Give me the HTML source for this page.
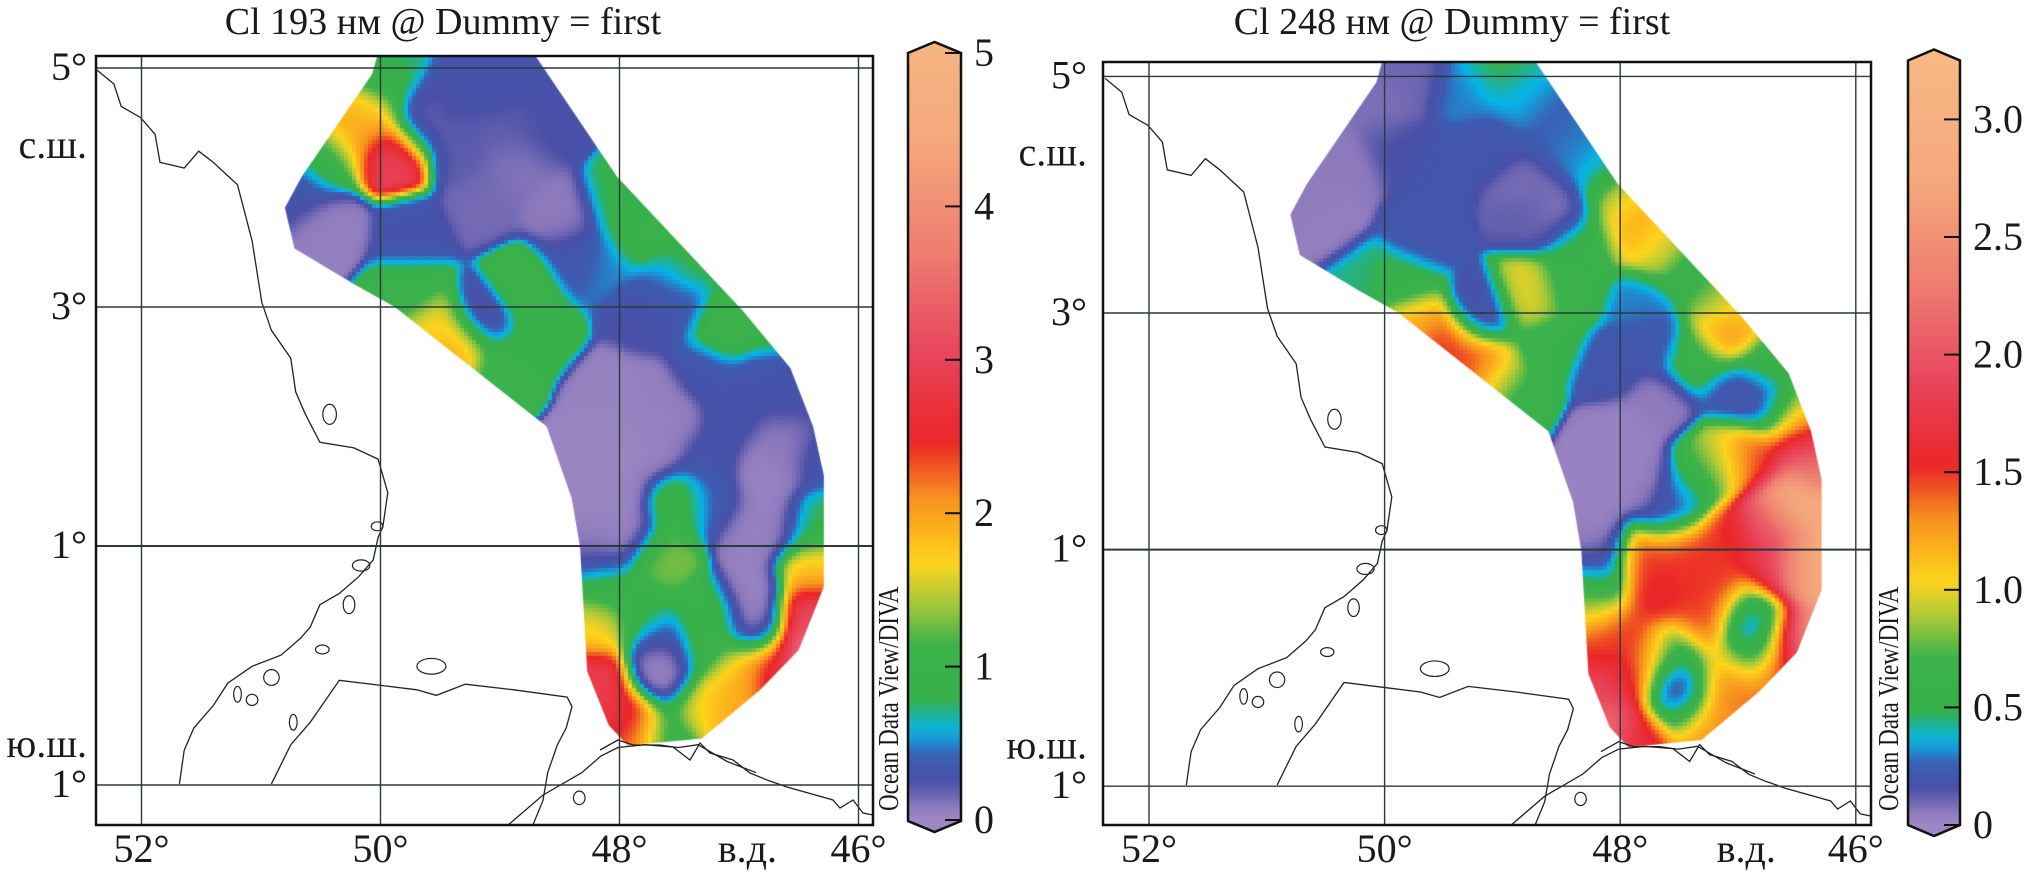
<!DOCTYPE html>
<html><head><meta charset="utf-8">
<style>
html,body{margin:0;padding:0;background:#fff;}
#wrap{position:relative;width:2024px;height:878px;overflow:hidden;background:#fff;}
canvas{position:absolute;left:0;top:0;}
svg{position:absolute;left:0;top:0;}
text{font-family:"Liberation Serif","DejaVu Serif",serif;fill:#1a1a1a;}
</style></head>
<body>
<div id="wrap">
<canvas id="cv" width="2024" height="878"></canvas>
<svg id="sv" width="2024" height="878" xmlns="http://www.w3.org/2000/svg"></svg>
</div>
<script>
// ---- data: left panel (Cl 193 nm) sample values ----
const lonsA = [49.91,50.22,50.10,50.44,49.97,49.91,50.41,50.66,49.76,49.45,48.98,48.86,48.46,49.14,49.66,49.76,49.35,49.54,48.98,49.15,48.80,48.67,48.37,48.15,47.81,47.44,48.00,47.81,47.50,47.13,46.82,46.82,47.28,47.99,48.30,48.18,47.75,46.76,46.91,46.66,47.28,47.22,46.35,46.38,46.38,46.38,46.45,46.72,46.97,47.65,47.50,47.81,47.28,48.18,48.12,48.18,48.18,47.96,47.87,47.64,47.64,47.62,47.31,47.13,47.28,48.60,49.30,49.20,48.90,47.60,47.00,46.60,46.90,48.00,47.70,48.10,47.60,46.70,46.85,46.60,48.25,47.95,47.64];
const latsA = [4.28,4.46,4.61,4.24,4.91,5.10,3.68,3.98,3.60,4.73,4.91,4.20,3.76,3.87,4.54,3.12,2.67,2.82,2.49,2.90,3.16,2.78,3.42,3.34,3.61,3.34,3.90,2.93,3.00,2.82,2.86,2.41,2.49,2.00,1.74,1.18,2.22,1.55,0.62,1.92,1.74,1.36,1.74,1.18,0.80,0.43,0.13,-0.05,-0.05,0.88,1.36,0.43,0.43,0.92,0.62,0.32,-0.13,-0.43,-0.58,-0.09,0.21,-0.58,-0.32,-0.32,0.13,4.50,4.30,5.05,4.50,3.20,2.10,2.20,1.10,1.50,1.80,2.30,2.00,1.20,0.30,1.80,1.45,1.10,-0.02];
const valsA = [3.0,2.0,1.8,1.0,0.9,0.7,0.05,0.3,0.3,0.25,0.3,0.12,0.08,0.15,0.15,1.0,2.0,1.7,1.0,0.1,1.1,0.9,0.3,0.5,1.0,0.9,0.8,0.25,0.3,1.2,0.9,0.3,0.3,0.02,0.02,0.02,0.05,0.02,0.02,0.1,0.3,0.35,0.35,0.8,1.8,3.0,3.6,2.8,1.8,1.3,1.0,0.9,1.0,0.2,1.0,1.7,2.9,2.8,2.2,0.0,0.3,0.9,1.6,2.0,1.0,0.25,0.2,0.3,0.2,0.4,0.3,0.3,0.05,0.02,0.02,0.03,0.05,0.02,0.05,0.05,0.02,0.02,0.0];
// ---- data: right panel (Cl 248 nm) sample values ----
const lonsB = [50.49,50.33,50.02,49.77,49.55,49.70,49.08,48.76,48.80,48.45,48.60,49.04,48.86,49.30,48.45,48.20,49.86,50.17,49.48,49.23,49.77,49.04,48.86,49.17,48.76,48.42,48.29,48.60,47.91,47.66,48.04,47.41,47.19,47.82,47.73,48.13,47.10,46.94,47.35,46.72,47.03,46.78,46.53,46.44,47.98,48.29,48.20,47.66,47.47,47.29,47.10,46.88,47.50,47.66,47.19,47.98,46.56,46.47,46.40,46.59,46.78,48.17,48.23,48.23,48.20,48.20,48.10,47.82,47.50,47.50,47.50,47.69,47.28,47.22,47.10,46.83,46.93,46.88,46.97,46.69,46.72,50.70,49.90,47.80,47.60,47.25,47.10,47.80,47.90,47.30,47.00,47.40,48.00,48.15,47.50,46.83];
const latsB = [3.74,4.23,4.72,4.98,4.23,3.66,4.42,3.85,4.10,3.85,4.57,5.06,4.80,4.87,4.42,4.19,3.25,3.28,2.72,2.57,2.91,2.45,2.30,2.98,3.13,3.21,3.59,2.72,3.74,3.55,3.96,3.36,3.13,3.06,2.76,2.53,2.83,3.06,2.60,2.60,2.34,2.23,2.15,1.96,1.96,1.40,1.06,2.23,1.47,1.66,1.78,1.78,1.02,0.64,0.83,0.26,1.40,0.83,1.78,0.27,1.21,0.87,0.68,0.49,0.19,-0.19,-0.49,-0.60,-0.11,0.10,-0.32,0.08,0.34,-0.07,-0.30,0.34,0.48,0.15,0.08,0.04,0.83,4.00,4.40,1.60,1.30,0.60,1.10,0.90,-0.10,-0.50,-0.20,0.75,1.70,1.90,-0.16,0.30];
const valsB = [0.03,0.05,0.08,0.1,0.2,0.2,0.2,0.12,0.08,0.05,0.25,0.5,0.35,0.3,0.3,0.35,0.55,0.45,1.5,1.5,1.2,1.0,0.6,0.15,1.0,0.6,0.6,0.6,1.2,1.0,1.0,0.6,0.8,0.3,0.2,0.2,1.3,1.1,0.6,0.6,0.2,0.15,0.9,1.5,0.02,0.02,0.02,0.05,0.35,0.7,1.0,1.5,1.5,1.55,1.5,1.5,2.8,2.8,2.3,2.6,2.0,0.15,0.6,1.0,1.5,1.9,2.2,1.6,0.0,0.5,0.5,1.3,1.45,1.2,1.3,0.0,0.8,0.3,1.1,1.6,1.7,0.05,0.15,0.02,0.1,1.5,1.5,1.5,1.6,1.3,1.4,1.5,0.02,0.02,0.0,0.0];
// ---- colorbar ticks ----
const ticksA = [0,1,2,3,4,5];
const tickLabelsA = ["0","1","2","3","4","5"];
const ticksB = [0,0.5,1.0,1.5,2.0,2.5,3.0];
const tickLabelsB = ["0","0.5","1.0","1.5","2.0","2.5","3.0"];
const lonTicks = [52,50,48,46];
const lonLabels = ["52°","50°","48°","46°"];
const latTicks = [5,3,1,-1];
const latLabels = ["5°","3°","1°","1°"];

const domain = [[50.0,5.2],[48.77,5.2],[48.02,4.09],[46.97,2.97],[46.57,2.49],[46.38,2.0],[46.29,1.59],[46.29,0.66],[46.5,0.13],[46.82,-0.2],[47.31,-0.61],[47.93,-0.67],[48.09,-0.5],[48.27,-0.05],[48.33,0.99],[48.4,1.4],[48.61,2.0],[49.88,3.0],[50.22,3.19],[50.72,3.49],[50.8,3.83],[50.66,4.09],[50.07,4.95]];

const cmT = [0,0.02,0.045,0.08,0.11,0.15,0.22,0.27,0.32,0.40,0.47,0.58,0.70,0.84,1.0];
const cmC = ["#9e88c4","#8a78bc","#4a50a7","#3c5db2","#06b5ea","#36b04b","#3eb34a","#a9c93a","#ffd51c","#f8921e","#eb2628","#e8455d","#ee7b70","#f5a87c","#f7b886"];

const panels = [
  {lons:lonsA,lats:latsA,vals:valsA,vmax:5.25,fx:96,fy:56,fw:777,fh:769,x0:141.5,kx:119.5,y1:546,ky:119.5,latRef:1,
   title:"Cl 193 нм @ Dummy = first",tx:443,cb:{x:908,w:53,top:53,bot:821,tip:11},ticks:ticksA,tl:tickLabelsA,tv:(v)=>820-v*153.4,name:"left"},
  {lons:lonsB,lats:latsB,vals:valsB,vmax:3.25,fx:1103,fy:62,fw:768,fh:763,x0:1149,kx:117.8,y1:313,ky:118.3,latRef:3,
   title:"Cl 248 нм @ Dummy = first",tx:1452,cb:{x:1908,w:52,top:60.5,bot:825,tip:11},ticks:ticksB,tl:tickLabelsB,tv:(v)=>825-v*235.2,name:"right"}
];
function px(p,lon){return p.x0+(52-lon)*p.kx;}
function py(p,lat){return p.y1-(lat-p.latRef)*p.ky;}
function hex(c){return [parseInt(c.substr(1,2),16),parseInt(c.substr(3,2),16),parseInt(c.substr(5,2),16)];}
const cmRGB = cmC.map(hex);
function cmap(t){t=Math.max(0,Math.min(1,t));for(let i=1;i<cmT.length;i++){if(t<=cmT[i]){const f=(t-cmT[i-1])/(cmT[i]-cmT[i-1]);const a=cmRGB[i-1],b=cmRGB[i];return [a[0]+(b[0]-a[0])*f,a[1]+(b[1]-a[1])*f,a[2]+(b[2]-a[2])*f];}}return cmRGB[cmRGB.length-1];}

const cv=document.getElementById('cv');const ctx=cv.getContext('2d');
panels.forEach(p=>{
  ctx.save();
  ctx.beginPath();ctx.rect(p.fx,p.fy,p.fw,p.fh);ctx.clip();
  ctx.beginPath();domain.forEach((d,i)=>{const X=px(p,d[0]),Y=py(p,d[1]);i?ctx.lineTo(X,Y):ctx.moveTo(X,Y);});ctx.closePath();ctx.clip();
  const s=4;
  for(let Y=p.fy;Y<p.fy+p.fh;Y+=s){for(let X=p.fx;X<p.fx+p.fw;X+=s){
    const lon=52-((X+s/2)-p.x0)/p.kx, lat=p.latRef+(p.y1-(Y+s/2))/p.ky;
    if(lon>51.2||lon<45.9||lat<-0.9) continue;
    let sw=0,sv=0;
    for(let k=0;k<p.vals.length;k++){const dx=lon-p.lons[k],dy=lat-p.lats[k];const d2=dx*dx+dy*dy;const w=Math.exp(-d2/0.045)+1e-9/(d2*d2+1e-6);sw+=w;sv+=w*p.vals[k];}
    const c=cmap((sv/sw)/p.vmax);
    ctx.fillStyle='rgb('+(c[0]|0)+','+(c[1]|0)+','+(c[2]|0)+')';ctx.fillRect(X,Y,s,s);
  }}
  ctx.restore();
});

const NS='http://www.w3.org/2000/svg';const sv=document.getElementById('sv');
function el(tag,attrs,parent){const e=document.createElementNS(NS,tag);for(const k in attrs)e.setAttribute(k,attrs[k]);(parent||sv).appendChild(e);return e;}
function txt(s,attrs,parent){const e=el('text',attrs,parent);e.textContent=s;return e;}

const coastMain=[[200,125],[235,150],[250,190],[290,210],[320,240],[330,290],[380,300],[410,270],[440,290],[490,330],[520,430],[540,540],[560,590],[600,640],[610,700],[630,740],[660,790],[730,800],[780,820],[800,880],[790,940],[780,960],[770,1000],[740,1030],[700,1060],[660,1080],[640,1120],[620,1140],[580,1170],[520,1190],[470,1220],[440,1260],[400,1300],[380,1340],[370,1400]];
const coastSouth=[[560,1400],[600,1330],[640,1290],[700,1215],[860,1232],[900,1242],[960,1222],[1060,1232],[1170,1245],[1180,1262],[1168,1300],[1150,1330],[1130,1380],[1120,1430],[1100,1472]];
const coastSouth2=[[1050,1472],[1120,1420],[1200,1380],[1240,1350],[1275,1335],[1330,1330],[1400,1335],[1440,1330],[1500,1360],[1560,1380]];
function zToLL(z){const x=z[0]/2.063,y=z[1]/1.786;return [52-(x-141.5)/119.5,1+(546-y)/119.5];}
const coastEast=[[600,750],[618,740],[633,745],[660,745],[673,747],[690,760],[700,743],[710,753],[733,760],[750,773],[767,780],[787,787],[833,800],[840,808],[853,800],[863,813],[873,815]].map(q=>{const x=q[0],y=q[1];return [52-(x-141.5)/119.5,1+(546-y)/119.5];});
const islands=[[680,740,14,18],[778,940,12,8],[745,1010,18,10],[720,1080,12,16],[665,1160,14,8],[890,1190,30,14],[560,1210,16,14],[520,1250,12,10],[490,1240,8,14],[1195,1425,12,12],[605,1290,8,14]];
panels.forEach(p=>{
  const g=el('g',{'clip-path':'url(#clip-'+p.name+')'});
  
  
  const cp=el('clipPath',{id:'clip-'+p.name});el('rect',{x:p.fx,y:p.fy,width:p.fw,height:p.fh},cp);
  [coastMain,coastSouth,coastSouth2].forEach(line=>{
    const d=line.map((z,i)=>{const ll=zToLL(z);return (i?'L':'M')+px(p,ll[0]).toFixed(1)+' '+py(p,ll[1]).toFixed(1);}).join(' ');
    el('path',{d:d,fill:'none',stroke:'#222','stroke-width':1.3},g);
  });
  el('path',{d:coastEast.map((ll,i)=>(i?'L':'M')+px(p,ll[0]).toFixed(1)+' '+py(p,ll[1]).toFixed(1)).join(' '),fill:'none',stroke:'#222','stroke-width':1.3},g);
  islands.forEach(is=>{const ll=zToLL([is[0],is[1]]);el('ellipse',{cx:px(p,ll[0]),cy:py(p,ll[1]),rx:is[2]/2.063*p.kx/119.5,ry:is[3]/1.786*p.ky/119.5,fill:'none',stroke:'#222','stroke-width':1.2},g);});
  lonTicks.forEach((lo,i)=>{const X=px(p,lo);const l=el('line',{x1:X,y1:p.fy,x2:X,y2:p.fy+p.fh,stroke:'#2a3a3a','stroke-width':1.4});
    
    const t=txt(lonLabels[i],{x:Math.min(X,p.fx+p.fw-8),y:862,'font-size':40,'text-anchor':'middle'});
    });
  latTicks.forEach((la,i)=>{const Y=py(p,la);const l=el('line',{x1:p.fx,y1:Y,x2:p.fx+p.fw,y2:Y,stroke:'#2a3a3a','stroke-width':la===1?2:1.4});
    
    const t=txt(latLabels[i],{x:p.fx-9-(p.name==='right'?7:0),y:Y+12,'font-size':40,'text-anchor':'end'});
    });
  const ax=p.fx-9-(p.name==='right'?7:0);
  const n=txt('с.ш.',{x:ax,y:py(p,4.33)+10,'font-size':40,'text-anchor':'end'});
  
  const s=txt('ю.ш.',{x:ax,y:py(p,-0.68)+10,'font-size':40,'text-anchor':'end'});
  
  const e=txt('в.д.',{x:px(p,46.93),y:862,'font-size':40,'text-anchor':'middle'});
  
  const fr=el('rect',{x:p.fx,y:p.fy,width:p.fw,height:p.fh,fill:'none',stroke:'#111','stroke-width':2.5});
  
  const tt=txt(p.title,{x:p.tx,y:34,'font-size':38,'text-anchor':'middle'});
  
  const cb=p.cb;const gid='grad-'+p.name;
  const lg=el('linearGradient',{id:gid,x1:0,y1:1,x2:0,y2:0});
  for(let i=0;i<=60;i++){const t=i/60;const c=cmap(t);el('stop',{offset:t,'stop-color':'rgb('+(c[0]|0)+','+(c[1]|0)+','+(c[2]|0)+')'},lg);}
  const yTop=p.tv(p.vmax), yBot=p.tv(0);
  lg.setAttribute('gradientUnits','userSpaceOnUse');lg.setAttribute('x1',0);lg.setAttribute('x2',0);lg.setAttribute('y1',yBot);lg.setAttribute('y2',yTop);
  const cx=cb.x+cb.w/2;
  const bar=el('path',{d:'M'+cb.x+' '+cb.top+' L'+cx+' '+(cb.top-cb.tip)+' L'+(cb.x+cb.w)+' '+cb.top+' L'+(cb.x+cb.w)+' '+cb.bot+' L'+cx+' '+(cb.bot+cb.tip)+' L'+cb.x+' '+cb.bot+' Z',fill:'url(#'+gid+')',stroke:'#111','stroke-width':2.5});
  
  p.ticks.forEach((v,i)=>{const Y=p.tv(v);el('line',{x1:cb.x+cb.w-16,y1:Y,x2:cb.x+cb.w,y2:Y,stroke:'#111','stroke-width':2});
    const t=txt(p.tl[i],{x:cb.x+cb.w+13,y:Y+13,'font-size':40});
    });
  const w=txt('Ocean Data View/DIVA',{x:0,y:0,'font-size':29,transform:'translate('+(cb.x-10)+',811) rotate(-90) scale(0.8,1)'});
  
});
</script>
</body></html>
